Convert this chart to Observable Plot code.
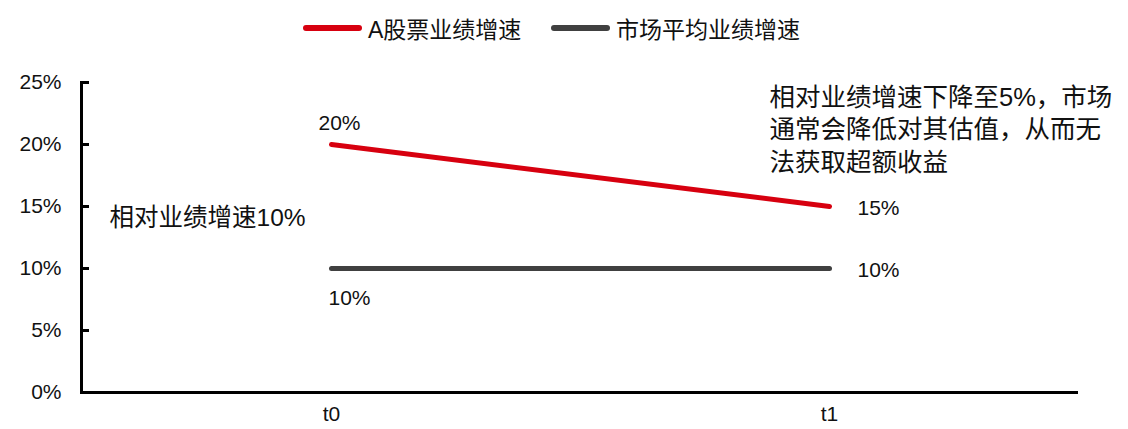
<!DOCTYPE html>
<html><head><meta charset="utf-8">
<script src="https://cdn.jsdelivr.net/npm/d3@7"></script>
<script src="https://cdn.jsdelivr.net/npm/@observablehq/plot@0.6"></script>
<style>
body{margin:0;background:#fff;font-family:"Liberation Sans","Noto Sans CJK SC",sans-serif;}
#wrap{position:relative;width:1128px;height:429px;}
#legend{position:absolute;left:0;top:0;width:1128px;height:50px;}
.item{position:absolute;top:11px;display:flex;align-items:center;font-size:23px;color:#111;}
.sw{display:inline-block;width:59px;height:6px;border-radius:3px;margin-right:6px;}
#chart{position:absolute;left:0;top:50px;}
</style></head>
<body><div id="wrap"><div id="legend"></div><div id="chart"></div></div>
<script>
const periods = ["t0", "t1"];
const seriesNames = ["A股票业绩增速", "市场平均业绩增速"];
const aShareGrowth = [0.20, 0.15];
const marketGrowth = [0.10, 0.10];
const yTicks = [0, 0.05, 0.10, 0.15, 0.20, 0.25];
const yTickLabels = ["0%", "5%", "10%", "15%", "20%", "25%"];
const noteLeft = "相对业绩增速10%";
const noteRight = ["相对业绩增速下降至5%，市场", "通常会降低对其估值，从而无", "法获取超额收益"];
const colors = ["#d7000f", "#404040"];

const rows = [];
periods.forEach((p, i) => {
  rows.push({period: p, value: aShareGrowth[i], series: seriesNames[0]});
  rows.push({period: p, value: marketGrowth[i], series: seriesNames[1]});
});
const aRows = rows.filter(d => d.series === seriesNames[0]);
const mRows = rows.filter(d => d.series === seriesNames[1]);
const pct = v => Math.round(v * 100) + "%";

// legend
const legend = document.getElementById("legend");
const lpos = [303, 551];
seriesNames.forEach((n, i) => {
  const it = document.createElement("div");
  it.className = "item";
  it.style.left = lpos[i] + "px";
  it.innerHTML = `<span class="sw" style="background:${colors[i]}"></span><span>${n}</span>`;
  legend.appendChild(it);
});

const font = "'Liberation Sans','Noto Sans CJK SC',sans-serif";
const chart = Plot.plot({
  width: 1128, height: 379,
  marginLeft: 81, marginRight: 50, marginTop: 32, marginBottom: 37,
  style: {fontFamily: font, fontSize: "21px", color: "#111", background: "#fff", overflow: "visible"},
  x: {type: "point", domain: periods, padding: 0.5, label: null},
  y: {domain: [0, 0.25], label: null},
  marks: [
    Plot.axisY({ticks: yTicks, tickSize: 0, tickPadding: 20, tickFormat: (d) => yTickLabels[yTicks.indexOf(d)], fontSize: 21, fill: "#111", label: null}),
    Plot.axisY({ticks: yTicks, tickSize: -8, text: null, stroke: "#000", strokeWidth: 3, label: null}),
    Plot.frame({anchor: "left", stroke: "#000", strokeWidth: 3}),
    Plot.axisX({tickSize: 0, tickPadding: 14, fontSize: 21, fill: "#111", label: null}),
    Plot.ruleY([0], {stroke: "#000", strokeWidth: 3}),
    Plot.line(mRows, {x: "period", y: "value", stroke: colors[1], strokeWidth: 5, strokeLinecap: "round"}),
    Plot.line(aRows, {x: "period", y: "value", stroke: colors[0], strokeWidth: 5, strokeLinecap: "round"}),
    Plot.text([aRows[0]], {x: "period", y: "value", text: d => pct(d.value), dx: 8, dy: -21, fontSize: 21, fill: "#111"}),
    Plot.text([mRows[0]], {x: "period", y: "value", text: d => pct(d.value), dx: 18, dy: 30, fontSize: 21, fill: "#111"}),
    Plot.text([aRows[1], mRows[1]], {x: "period", y: "value", text: d => pct(d.value), dx: 28, dy: 2, textAnchor: "start", fontSize: 21, fill: "#111"}),
    Plot.text([noteLeft], {x: () => periods[0], y: () => 0.15, text: d => d, dx: -222, dy: 12, textAnchor: "start", fontSize: 24.5, fill: "#111"}),
    Plot.text([noteRight.join("\n")], {x: () => periods[1], y: () => 0.25, text: d => d, dx: -60, dy: 0, textAnchor: "start", lineAnchor: "top", lineHeight: 1.28, fontSize: 25.5, fill: "#111"})
  ]
});
document.getElementById("chart").appendChild(chart);
</script></body></html>
